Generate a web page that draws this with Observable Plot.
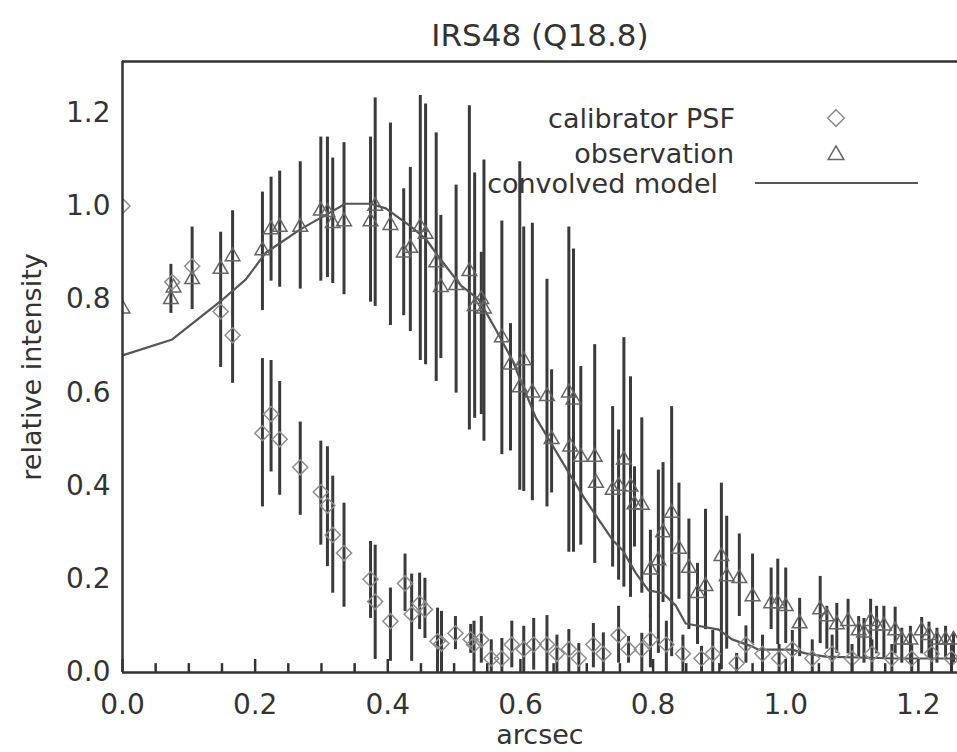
<!DOCTYPE html>
<html><head><meta charset="utf-8">
<script src="https://cdn.jsdelivr.net/npm/d3@7"></script>
<script src="https://cdn.jsdelivr.net/npm/@observablehq/plot@0.6"></script>
<style>
html,body{margin:0;padding:0;background:#fff;}
#chart{width:957px;height:752px;}
</style></head><body><div id="chart"></div>
<script>
// ---------- data ----------
const title = "IRS48 (Q18.8)";
const xLabel = "arcsec";
const yLabel = "relative intensity";
const legendLabels = ["calibrator PSF", "observation", "convolved model"];
const xTicks = [0, 0.2, 0.4, 0.6, 0.8, 1.0, 1.2];
const xMinorTicks = [0.05,0.1,0.15,0.25,0.3,0.35,0.45,0.5,0.55,0.65,0.7,0.75,0.85,0.9,0.95,1.05,1.1,1.15,1.25];
const yTicks = [0, 0.2, 0.4, 0.6, 0.8, 1.0, 1.2];

// observation (triangles) with error bars
const obsX  = [0.000,0.073,0.077,0.105,0.148,0.166,0.211,0.224,0.237,0.268,0.299,0.309,0.317,0.334,0.374,0.381,0.404,0.424,0.434,0.449,0.457,0.473,0.480,0.503,0.523,0.531,0.541,0.545,0.572,0.585,0.599,0.605,0.618,0.640,0.647,0.673,0.675,0.680,0.691,0.712,0.714,0.739,0.748,0.756,0.766,0.772,0.783,0.796,0.808,0.815,0.828,0.839,0.854,0.867,0.879,0.903,0.911,0.930,0.950,0.978,0.988,1.000,1.021,1.052,1.062,1.077,1.094,1.110,1.118,1.128,1.137,1.148,1.165,1.175,1.188,1.205,1.216,1.228,1.241,1.253];
const obsY  = [0.78,0.80,0.825,0.843,0.865,0.892,0.905,0.95,0.955,0.955,0.99,0.987,0.963,0.967,0.967,1.0,0.959,0.90,0.91,0.955,0.94,0.879,0.826,0.83,0.86,0.785,0.80,0.78,0.718,0.66,0.611,0.669,0.60,0.592,0.50,0.60,0.484,0.585,0.462,0.462,0.406,0.391,0.40,0.456,0.398,0.36,0.359,0.22,0.24,0.30,0.342,0.265,0.224,0.17,0.185,0.249,0.206,0.202,0.163,0.148,0.148,0.142,0.105,0.135,0.12,0.103,0.11,0.09,0.085,0.11,0.10,0.10,0.09,0.07,0.07,0.09,0.08,0.07,0.07,0.07];
const obsLo = [0.78,0.77,0.825,0.778,0.654,0.62,0.776,0.839,0.826,0.822,0.839,0.847,0.834,0.81,0.794,0.785,0.744,0.765,0.731,0.669,0.66,0.624,0.673,0.599,0.52,0.545,0.553,0.496,0.467,0.475,0.391,0.388,0.368,0.355,0.385,0.258,0.484,0.258,0.273,0.234,0.406,0.226,0.198,0.183,0.161,0.269,0.17,0.118,0.041,0.15,0.034,0.157,0.092,0.06,0.092,0.006,0.05,0.12,0.062,0.092,0.06,0.062,0.034,0.062,0.05,0.041,0.04,0.03,0.02,0.05,0.04,0.03,0.04,0.02,0.02,0.04,0.03,0.02,0.03,0.02];
const obsHi = [0.78,0.875,0.825,0.955,0.944,0.99,1.03,1.062,1.075,1.095,1.148,1.148,1.103,1.136,1.148,1.232,1.178,1.037,1.083,1.237,1.219,1.157,0.98,1.045,1.215,1.071,0.901,1.099,0.968,0.748,1.095,0.955,0.963,0.843,0.649,0.955,0.484,0.908,0.656,0.703,0.406,0.57,0.52,0.718,0.634,0.441,0.546,0.305,0.434,0.45,0.57,0.406,0.329,0.234,0.35,0.406,0.335,0.297,0.254,0.224,0.243,0.224,0.159,0.206,0.142,0.148,0.157,0.12,0.116,0.157,0.142,0.142,0.14,0.095,0.099,0.118,0.108,0.095,0.099,0.086];

// calibrator PSF (diamonds) with error bars
const calX  = [0.000,0.075,0.105,0.148,0.166,0.211,0.224,0.237,0.268,0.299,0.309,0.317,0.334,0.374,0.381,0.404,0.426,0.436,0.448,0.456,0.475,0.481,0.502,0.525,0.530,0.541,0.556,0.572,0.587,0.605,0.620,0.640,0.655,0.673,0.688,0.710,0.725,0.748,0.763,0.783,0.796,0.820,0.845,0.873,0.890,0.926,0.940,0.965,0.990,1.010,1.040,1.070,1.100,1.130,1.160,1.190,1.220,1.250];
const calY  = [1.0,0.837,0.871,0.774,0.723,0.513,0.554,0.50,0.44,0.387,0.358,0.295,0.256,0.20,0.152,0.11,0.191,0.125,0.148,0.135,0.067,0.062,0.084,0.071,0.06,0.07,0.03,0.03,0.06,0.05,0.06,0.06,0.04,0.05,0.03,0.06,0.04,0.08,0.05,0.05,0.07,0.06,0.04,0.03,0.04,0.02,0.06,0.04,0.03,0.05,0.03,0.04,0.03,0.04,0.03,0.03,0.04,0.03];
const calLo = [1.0,0.837,0.871,0.774,0.723,0.355,0.43,0.38,0.337,0.273,0.227,0.17,0.14,0.116,0.028,0.024,0.131,0.024,0.092,0.073,0.0,0.0,0.049,0.041,0.0,0.02,0.0,0.0,0.01,0.0,0.005,0.0,0.0,0.0,0.0,0.01,0.0,0.02,0.02,0.0,0.01,0.0,0.0,0.0,0.0,0.0,0.02,0.0,0.0,0.0,0.0,0.0,0.0,0.0,0.0,0.0,0.0,0.0];
const calHi = [1.0,0.837,0.871,0.774,0.723,0.673,0.669,0.624,0.537,0.496,0.484,0.421,0.363,0.281,0.273,0.181,0.254,0.211,0.213,0.202,0.138,0.131,0.12,0.103,0.11,0.12,0.07,0.073,0.11,0.099,0.116,0.122,0.08,0.092,0.062,0.105,0.085,0.142,0.077,0.084,0.125,0.11,0.08,0.056,0.09,0.041,0.1,0.08,0.06,0.09,0.07,0.08,0.06,0.07,0.06,0.06,0.07,0.06];

// convolved model line
const modelX = [0,0.075,0.148,0.186,0.216,0.268,0.314,0.336,0.374,0.397,0.434,0.457,0.48,0.51,0.537,0.563,0.588,0.623,0.673,0.698,0.739,0.754,0.774,0.793,0.815,0.834,0.849,0.899,0.919,0.949,0.959,1.009,1.03,1.06,1.166,1.26];
const modelY = [0.68,0.714,0.796,0.843,0.90,0.95,0.987,1.005,1.005,0.995,0.957,0.93,0.885,0.83,0.80,0.735,0.669,0.547,0.428,0.37,0.284,0.262,0.213,0.176,0.17,0.144,0.105,0.092,0.071,0.056,0.049,0.049,0.041,0.034,0.03,0.03];

// ---------- tables ----------
const obs = obsX.map((x,i)=>({x, y:obsY[i], lo:obsLo[i], hi:obsHi[i]}));
const cal = calX.map((x,i)=>({x, y:calY[i], lo:calLo[i], hi:calHi[i]}));
const model = modelX.map((x,i)=>({x, y:modelY[i]}));

const FONT = "DejaVu Sans";
const ink = "#333";
const barColor = "#3a3a3a";
const calColor = "#8e8e8e";
const obsColor = "#666";
const lineColor = "#555";

const plot = Plot.plot({
  width: 957, height: 752,
  marginLeft: 122, marginRight: 0, marginTop: 61, marginBottom: 80,
  style: {fontFamily: FONT, background: "#fff", color: ink, overflow: "visible"},
  x: {domain: [0, 1.259]},
  y: {domain: [0, 1.31]},
  marks: [
    Plot.ruleX(cal.filter(d=>d.hi>d.lo), {x:"x", y1:"lo", y2:"hi", stroke:barColor, strokeWidth:3, clip:true}),
    Plot.ruleX(obs.filter(d=>d.hi>d.lo), {x:"x", y1:"lo", y2:"hi", stroke:barColor, strokeWidth:3, clip:true}),
    Plot.line(model, {x:"x", y:"y", stroke:lineColor, strokeWidth:2.2, clip:true}),
    Plot.dot(cal, {x:"x", y:"y", symbol:"diamond2", r:6.8, stroke:calColor, strokeWidth:1.5, clip:true}),
    Plot.dot(obs, {x:"x", y:"y", symbol:"triangle2", r:7, stroke:obsColor, strokeWidth:1.5, clip:true}),
    Plot.ruleX(xMinorTicks, {x:d=>d, y1:0, y2:0.019, stroke:ink, strokeWidth:2.5}),
    Plot.ruleX(xTicks, {x:d=>d, y1:0, y2:0.028, stroke:ink, strokeWidth:2.5}),
    Plot.ruleY([0], {stroke:ink, strokeWidth:2.5}),
    Plot.ruleY([1.31], {stroke:ink, strokeWidth:2.5}),
    Plot.ruleX([0], {stroke:ink, strokeWidth:2.5}),
    Plot.axisX({ticks:xTicks, tickSize:0, tickPadding:22, tickFormat:d3.format(".1f"), fontSize:28, fill:ink, label:null}),
    Plot.axisY({ticks:yTicks, tickSize:0, tickPadding:12, tickFormat:d3.format(".1f"), fontSize:28, fill:ink, label:null}),
    Plot.text([title], {text:d=>d, frameAnchor:"top", lineAnchor:"middle", dy:-25, fontSize:31, fill:ink}),
    Plot.text([xLabel], {text:d=>d, frameAnchor:"bottom", lineAnchor:"middle", dy:63, fontSize:27, fill:ink}),
    Plot.text([yLabel], {text:d=>d, frameAnchor:"left", textAnchor:"middle", lineAnchor:"middle", rotate:-90, dx:-90, fontSize:27, fill:ink})
  ]
});

// legend
const svg = d3.select(plot);
const lg = svg.append("g").attr("font-family", FONT).attr("font-size", 27).attr("fill", ink);
const legendRows = [
  {label: legendLabels[0], tx: 735, base: 128, cy: 118, kind: "diamond"},
  {label: legendLabels[1], tx: 734, base: 163, cy: 155, kind: "triangle"},
  {label: legendLabels[2], tx: 718, base: 193, cy: 183, kind: "line"}
];
legendRows.forEach(r => {
  lg.append("text").attr("x", r.tx).attr("y", r.base).attr("text-anchor", "end").text(r.label);
  if (r.kind === "line") {
    lg.append("line").attr("x1", 755).attr("x2", 918).attr("y1", r.cy).attr("y2", r.cy)
      .attr("stroke", lineColor).attr("stroke-width", 2.2);
  } else {
    const sym = r.kind === "diamond" ? d3.symbolDiamond2 : d3.symbolTriangle2;
    lg.append("path").attr("d", d3.symbol(sym, Math.PI*7.5*7.5)())
      .attr("transform", `translate(836,${r.cy})`)
      .attr("fill", "none").attr("stroke", r.kind === "diamond" ? calColor : obsColor).attr("stroke-width", 1.5);
  }
});

document.getElementById("chart").appendChild(plot);
</script></body></html>
